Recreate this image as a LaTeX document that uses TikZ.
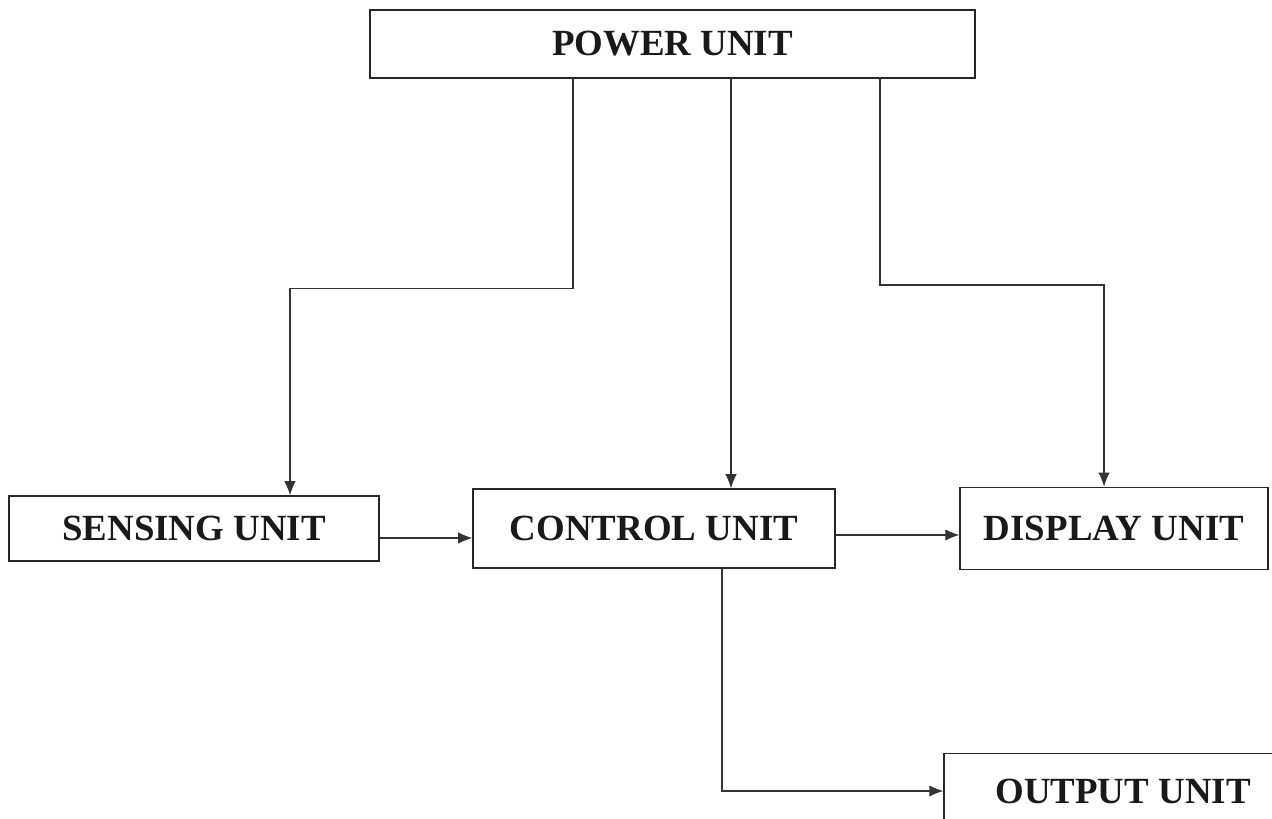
\documentclass[tikz,border=0pt]{standalone}
\usepackage{fontspec}
\setmainfont{Liberation Serif}
\usepackage{tikz}
\usetikzlibrary{arrows.meta,positioning,calc}

\begin{document}
\begin{tikzpicture}[->, >={Latex[length=8pt,width=6.5pt]}, semithick, node distance=9.2cm]
\tikzstyle{unit}=[rectangle,draw=black!85,line width=0.8pt,text=black!90,font=\fontsize{21}{25}\selectfont\bfseries,inner sep=0pt]
\tikzstyle{link}=[draw=black!80,line width=0.6pt]
\useasboundingbox (0,0) rectangle (25.44,-16.38);
\clip (0,0) rectangle (25.44,-16.38);
\node[unit,minimum width=7.24cm,minimum height=1.58cm] (control) at (13.08,-10.57) {CONTROL UNIT};
\node[unit,minimum width=7.4cm,minimum height=1.3cm]   (sensing)[left of=control]  {SENSING UNIT};
\node[unit,minimum width=6.16cm,minimum height=1.64cm] (display)[right of=control] {DISPLAY UNIT};
\node[unit,minimum width=12.1cm,minimum height=1.36cm] (power)[above of=control, node distance=9.69cm, xshift=0.37cm] {POWER UNIT};
\node[unit,minimum width=7.16cm,minimum height=1.5cm]  (output)[below of=display, node distance=5.25cm, xshift=0.18cm] {OUTPUT UNIT};
%
\coordinate (ps)   at ($(power.south)+(-1.99,0)$);
\coordinate (sin)  at ($(sensing.north)+(1.92,0)$);
\coordinate (cin)  at ($(control.north)+(1.54,0)$);
\coordinate (pd)   at ($(power.south)+(4.15,0)$);
\coordinate (din)  at ($(display.north)+(-0.2,0)$);
\coordinate (sout) at ($(sensing.east)+(0,-0.19)$);
\coordinate (cout) at ($(control.east)+(0,-0.13)$);
\coordinate (cdn)  at ($(control.south)+(1.36,0)$);
%
\draw[link] (ps) -- ++(0,-4.2) -| (sin);
\draw[link] (cin |- power.south) -- (cin);
\draw[link,line width=1pt] (pd) -- ++(0,-4.12) -| (din);
%
\draw[link] (sout) -- (sout -| control.west);
\draw[link] (cout) -- (cout -| display.west);
\draw[link] (cdn) |- (output.west);
\end{tikzpicture}
\end{document}
